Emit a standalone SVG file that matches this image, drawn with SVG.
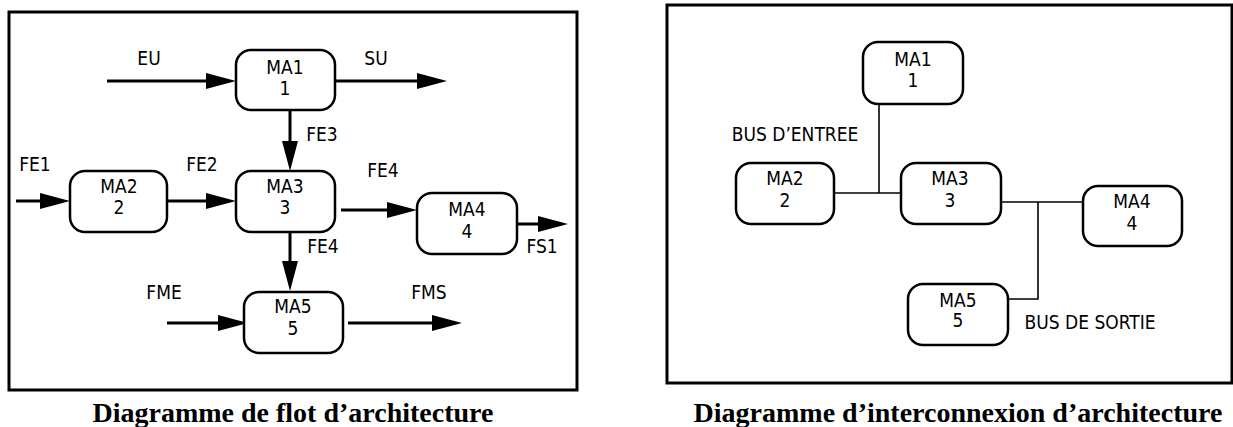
<svg xmlns="http://www.w3.org/2000/svg" width="1233" height="427" viewBox="0 0 1233 427">
  <style>
    .frame { fill: none; stroke: #000; stroke-width: 3; }
    .box { fill: #fff; stroke: #000; stroke-width: 2.5; }
    .flow { fill: none; stroke: #000; stroke-width: 3; marker-end: url(#head); }
    .bus { fill: none; stroke: #000; stroke-width: 1.6; }
    .lbl { font-family: "DejaVu Sans Condensed", "DejaVu Sans", "Liberation Sans", sans-serif; font-stretch: condensed; font-size: 19px; fill: #000; text-anchor: middle; }
    .cap { font-family: "Liberation Serif", "Times New Roman", serif; font-size: 28px; font-weight: bold; fill: #000; text-anchor: middle; }
  </style>
  <defs>
    <marker id="head" markerUnits="userSpaceOnUse" markerWidth="30" markerHeight="16" refX="20" refY="8" orient="auto">
      <path d="M0,0 L30,8 L0,16 Z" fill="#000"/>
    </marker>
  </defs>
  <rect width="1233" height="427" fill="#fff"/>

  <!-- Flow diagram -->
  <g id="flow-diagram">
    <rect class="frame" x="9" y="12" width="568" height="378"/>
    <g id="flow-connectors">
      <line class="flow" x1="107" y1="81" x2="226" y2="81"/>
      <line class="flow" x1="335" y1="81" x2="437" y2="81"/>
      <line class="flow" x1="290" y1="110" x2="290" y2="161"/>
      <line class="flow" x1="16" y1="201" x2="60" y2="201"/>
      <line class="flow" x1="167" y1="201" x2="226" y2="201"/>
      <line class="flow" x1="341" y1="210" x2="407" y2="210"/>
      <line class="flow" x1="517" y1="224" x2="558" y2="224"/>
      <line class="flow" x1="290" y1="232" x2="290" y2="281"/>
      <line class="flow" x1="167" y1="323" x2="238" y2="323"/>
      <line class="flow" x1="348" y1="323" x2="452" y2="323"/>
    </g>
    <g id="flow-labels">
      <text class="lbl" x="149" y="65">EU</text>
      <text class="lbl" x="376" y="65">SU</text>
      <text class="lbl" x="322" y="141">FE3</text>
      <text class="lbl" x="35" y="171">FE1</text>
      <text class="lbl" x="202" y="171">FE2</text>
      <text class="lbl" x="383" y="177">FE4</text>
      <text class="lbl" x="542" y="253">FS1</text>
      <text class="lbl" x="323" y="253">FE4</text>
      <text class="lbl" x="164" y="299">FME</text>
      <text class="lbl" x="429" y="299">FMS</text>
    </g>
    <g id="f-ma1">
      <rect class="box" x="236" y="50" width="99" height="60" rx="15"/>
      <text class="lbl" x="285" y="74">MA1</text>
      <text class="lbl" x="285" y="95">1</text>
    </g>
    <g id="f-ma2">
      <rect class="box" x="70" y="171" width="97" height="61" rx="15"/>
      <text class="lbl" x="119" y="193">MA2</text>
      <text class="lbl" x="119" y="214">2</text>
    </g>
    <g id="f-ma3">
      <rect class="box" x="236" y="171" width="99" height="61" rx="15"/>
      <text class="lbl" x="285" y="193">MA3</text>
      <text class="lbl" x="285" y="214">3</text>
    </g>
    <g id="f-ma4">
      <rect class="box" x="417" y="193" width="100" height="61" rx="15"/>
      <text class="lbl" x="467" y="216">MA4</text>
      <text class="lbl" x="467" y="238">4</text>
    </g>
    <g id="f-ma5">
      <rect class="box" x="244" y="292" width="99" height="61" rx="15"/>
      <text class="lbl" x="293" y="313">MA5</text>
      <text class="lbl" x="293" y="335">5</text>
    </g>
    <text class="cap" x="293" y="422">Diagramme de flot d’architecture</text>
  </g>

  <!-- Interconnection diagram -->
  <g id="bus-diagram">
    <rect class="frame" x="667" y="5" width="565" height="378"/>
    <g id="bus-connectors">
      <polyline class="bus" points="879,104 879,193"/>
      <polyline class="bus" points="834,193 901,193"/>
      <polyline class="bus" points="1001,202 1083,202"/>
      <polyline class="bus" points="1038,202 1038,299 1008,299"/>
    </g>
    <text class="lbl" x="795" y="141">BUS D’ENTREE</text>
    <text class="lbl" x="1090" y="329">BUS DE SORTIE</text>
    <g id="b-ma1">
      <rect class="box" x="863" y="42" width="100" height="62" rx="15"/>
      <text class="lbl" x="913" y="66">MA1</text>
      <text class="lbl" x="913" y="87">1</text>
    </g>
    <g id="b-ma2">
      <rect class="box" x="736" y="163" width="98" height="61" rx="15"/>
      <text class="lbl" x="785" y="185">MA2</text>
      <text class="lbl" x="785" y="207">2</text>
    </g>
    <g id="b-ma3">
      <rect class="box" x="901" y="163" width="100" height="61" rx="15"/>
      <text class="lbl" x="950" y="185">MA3</text>
      <text class="lbl" x="950" y="207">3</text>
    </g>
    <g id="b-ma4">
      <rect class="box" x="1083" y="186" width="99" height="60" rx="15"/>
      <text class="lbl" x="1132" y="208">MA4</text>
      <text class="lbl" x="1132" y="230">4</text>
    </g>
    <g id="b-ma5">
      <rect class="box" x="908" y="284" width="100" height="61" rx="15"/>
      <text class="lbl" x="958" y="307">MA5</text>
      <text class="lbl" x="958" y="327">5</text>
    </g>
    <text class="cap" x="958" y="422">Diagramme d’interconnexion d’architecture</text>
  </g>
</svg>
